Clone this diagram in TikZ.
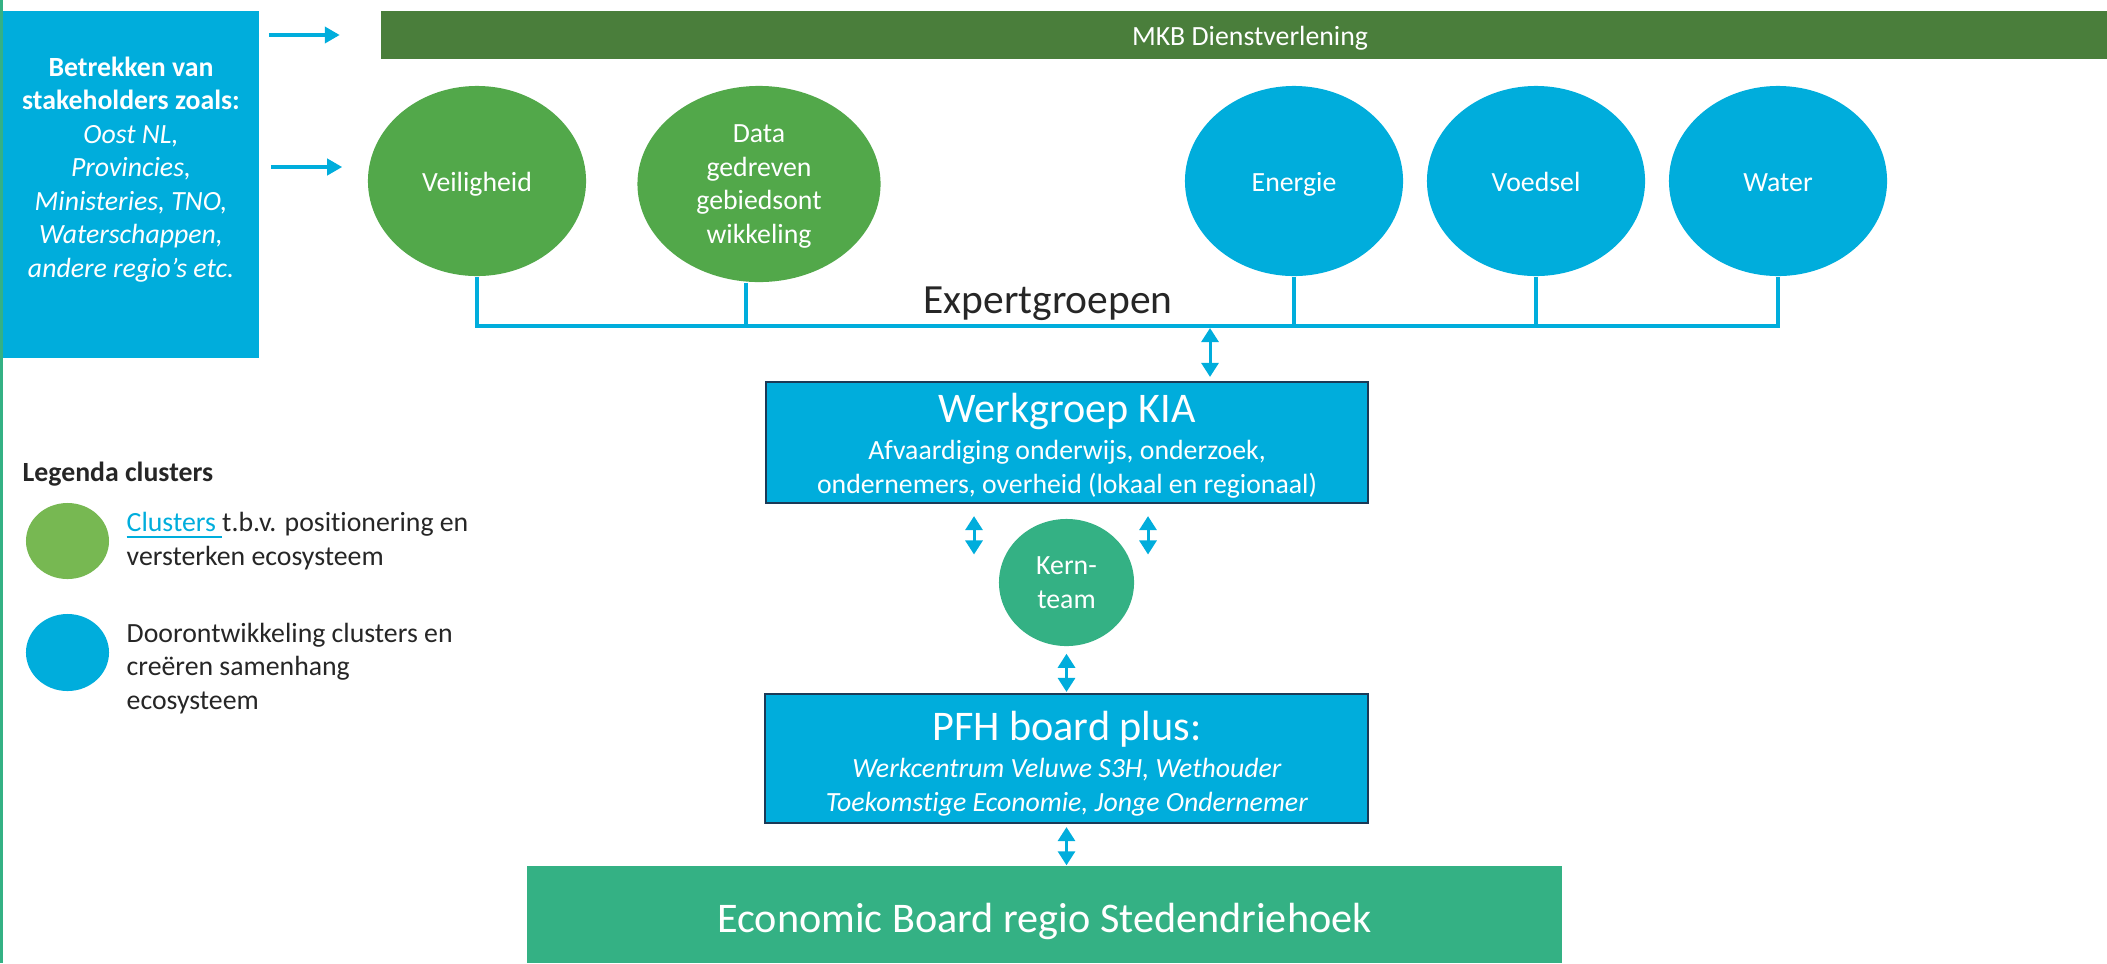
\documentclass[tikz,border=0pt]{standalone}
\usepackage{fontspec}
\setmainfont{Carlito}[Ligatures=CommonOff]
\usetikzlibrary{shapes.geometric,arrows.meta}
\definecolor{kiablue}{HTML}{00ADDC}
\definecolor{mkbgreen}{HTML}{4A7E3B}
\definecolor{clustergreen}{HTML}{52A84A}
\definecolor{legendgreen}{HTML}{77B852}
\definecolor{boardgreen}{HTML}{34B184}
\definecolor{boxline}{HTML}{1B3A57}
\definecolor{darktext}{HTML}{262626}
\tikzset{
  every node/.style={font=\fontsize{7.9}{9.6}\selectfont, inner sep=0pt},
  cluster/.style={ellipse, fill=#1, text=white, align=center},
  enkel/.style={text height=5.7pt, text depth=0pt},
  blok/.style={rectangle, fill=kiablue, draw=boxline, line width=0.6pt},
  arr/.style={kiablue, line width=1.1pt, -{Triangle[length=0.15cm,width=0.16cm]}},
  dbl/.style={kiablue, line width=0.85pt, {Triangle[length=0.14cm,width=0.17cm]}-{Triangle[length=0.14cm,width=0.17cm]}},
  busline/.style={kiablue, line width=1.1pt},
}
\begin{document}
\begin{tikzpicture}[x=0.01cm,y=-0.01cm]
\useasboundingbox (0,0) rectangle (2107,963);
\fill[boardgreen] (0,0) rectangle (3,963);

\node[fill=kiablue, minimum width=2.56cm, minimum height=3.47cm] (stake) at (131,184.5) {};
\node[text=white, align=center, anchor=base, font=\fontsize{7.9}{9.5}\selectfont] (staketekst) at (131,277)
  {\textbf{Betrekken van}\\ \textbf{stakeholders zoals:}\\ \textit{Oost NL,}\\ \textit{Provincies,}\\
   \textit{Ministeries, TNO,}\\ \textit{Waterschappen,}\\ \textit{andere regio’s etc.}};

\node[fill=mkbgreen, minimum width=17.26cm, minimum height=0.48cm] (mkb) at (1244,35) {};
\node[text=white, anchor=base] (mkbtekst) at (1250,45) {MKB Dienstverlening};

\node[cluster=clustergreen, enkel, minimum width=2.18cm, minimum height=1.90cm] (veiligheid) at (477,181) {Veiligheid};
\node[cluster=clustergreen, text depth=0pt, minimum width=2.43cm, minimum height=1.96cm] (data) at (759,184) {Data\\gedreven\\gebiedsont\\wikkeling};
\foreach \naam/\x/\tekst in {energie/1294/Energie, voedsel/1536/Voedsel, water/1778/Water}
  \node[cluster=kiablue, enkel, minimum width=2.18cm, minimum height=1.90cm] (\naam) at (\x,181) {\tekst};

\draw[arr, shorten <=0.09cm, shorten >=0.40cm] (stake.east |- mkb.west) -- (mkb.west);
\coordinate (pijl) at (0,167);
\draw[arr, shorten <=0.11cm, shorten >=0.25cm] (stake.east |- pijl) -- (veiligheid.west |- pijl);

\coordinate (bus) at (0,326);
\draw[busline] (veiligheid.south) |- (water.south |- bus) -- (water.south);
\draw[busline] ([xshift=-0.13cm]data.south) -- ([xshift=-0.13cm]data.south |- bus);
\foreach \n in {energie,voedsel}
  \draw[busline] (\n.south) -- (\n.south |- bus);
\node[anchor=base, text=darktext, font=\fontsize{11.8}{13}\selectfont] (expert) at (1048,313) {Expertgroepen};

\node[blok, minimum width=6.02cm, minimum height=1.21cm] (kia) at (1067,442.5) {};
\node[anchor=base, text=white, font=\fontsize{12}{14}\selectfont] (kiatitel) at (1067,422) {Werkgroep KIA};
\node[anchor=base, text=white] (kiaregel1) at (1067,459) {Afvaardiging onderwijs, onderzoek,};
\node[anchor=base, text=white] (kiaregel2) at (1067,493) {ondernemers, overheid (lokaal en regionaal)};

\node[cluster=boardgreen, minimum width=1.35cm, minimum height=1.27cm] (kern) at (1066.5,582.5) {Kern-\\team};

\node[blok, minimum width=6.03cm, minimum height=1.29cm] (pfh) at (1066.5,758.5) {};
\node[anchor=base, text=white, font=\fontsize{12}{14}\selectfont] (pfhtitel) at (1067,740) {PFH board plus:};
\node[anchor=base, text=white] (pfhregel1) at (1067,777) {\textit{Werkcentrum Veluwe S3H, Wethouder}};
\node[anchor=base, text=white] (pfhregel2) at (1067,811) {\textit{Toekomstige Economie, Jonge Ondernemer}};

\node[fill=boardgreen, minimum width=10.35cm, minimum height=0.97cm] (eb) at (1044.5,914.5) {};
\node[anchor=base, text=white, font=\fontsize{12}{14}\selectfont] (ebtekst) at (1044.5,932) {Economic Board regio Stedendriehoek};

\coordinate (busdown) at (1210,326);
\draw[dbl, shorten <=0.02cm, shorten >=0.04cm] (busdown) -- (busdown |- kia.north);
\coordinate (kl) at (974,0);
\coordinate (kr) at (1148,0);
\foreach \k in {kl,kr}
  \draw[dbl, shorten <=0.12cm, shorten >=0.28cm] (kia.south -| \k) -- (kern.center -| \k);
\draw[dbl, shorten <=0.07cm, shorten >=0.01cm] (kern.south) -- (pfh.north);
\draw[dbl, shorten <=0.03cm] (pfh.south) -- (pfh.south |- eb.north);

\node[anchor=base west, text=darktext, font=\fontsize{7.9}{9.4}\selectfont\bfseries] (legenda) at (22,481) {Legenda clusters};
\node[ellipse, fill=legendgreen, minimum width=0.83cm, minimum height=0.76cm] (leggroen) at (67.5,541) {};
\node[ellipse, fill=kiablue, minimum width=0.83cm, minimum height=0.77cm] (legblauw) at (67.5,652.5) {};
\node[anchor=base west, align=left, text=darktext, font=\fontsize{7.9}{9.4}\selectfont] (legtekst1) at (126,565)
  {\textcolor{kiablue}{\underline{Clusters\ }}t.b.v. positionering en\\versterken ecosysteem};
\node[anchor=base west, align=left, text=darktext, font=\fontsize{7.9}{9.4}\selectfont] (legtekst2) at (126,709)
  {Doorontwikkeling clusters en\\creëren samenhang\\ecosysteem};
\end{tikzpicture}
\end{document}
